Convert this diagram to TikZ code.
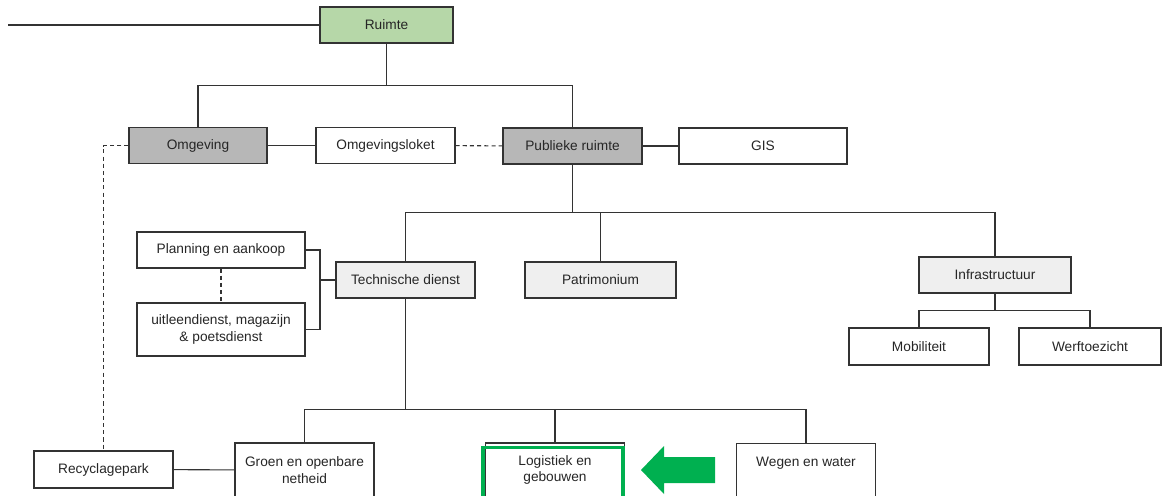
\documentclass[tikz,border=0pt]{standalone}
\usepackage{fontspec}
\setmainfont{Liberation Sans}
\usepackage{tikz}
\usetikzlibrary{positioning,calc}
\definecolor{lijn}{HTML}{333333}
\definecolor{groenvak}{HTML}{B6D7A8}
\definecolor{grijsvak}{HTML}{B7B7B7}
\definecolor{lichtvak}{HTML}{EFEFEF}
\definecolor{accent}{HTML}{00B050}
\tikzstyle{box} = [draw=lijn,line width=0.6pt,rectangle,inner sep=0pt,minimum width=2.78cm,minimum height=0.73cm,align=center,text=black!85,font=\fontsize{7.8}{9.4}\selectfont]
\tikzstyle{wire} = [draw=lijn,line width=0.6pt]
\tikzstyle{dwire} = [wire,dash pattern=on 2.3pt off 1.8pt]
\tikzset{>=latex}

\begin{document}
\begin{tikzpicture}[x=0.02cm,y=-0.02cm]
    \clip (0,0) rectangle (1163,495);
    \fill [white] (0,0) rectangle (1163,495);

    \node [box,fill=groenvak,minimum width=2.66cm,minimum height=0.72cm] (ruimte) at (386.5,25) {Ruimte};
    \node [box,fill=grijsvak,minimum width=2.76cm] (omgeving) at (198,145.5) {Omgeving};
    \node [box] (loket) at (385.5,145.5) {Omgevingsloket};
    \node [box,fill=grijsvak,minimum height=0.72cm] (publiek) at (572.5,146) {Publieke ruimte};
    \node [box,minimum width=3.36cm,minimum height=0.72cm] (gis) at (763,146) {GIS};

    \node [box,minimum width=3.36cm,minimum height=0.72cm] (planning) at (221,250) {Planning en aankoop};
    \node [box,minimum width=3.36cm,minimum height=1.06cm] (uitleen) at (221,329.5) {uitleendienst, magazijn\\\& poetsdienst};
    \node [box,fill=lichtvak,minimum height=0.72cm] (techdienst) at (405.5,280) {Technische dienst};
    \node [box,fill=lichtvak,minimum width=3.02cm,minimum height=0.72cm] (patrimonium) at (600.5,280) {Patrimonium};
    \node [box,fill=lichtvak,minimum width=3.04cm,minimum height=0.72cm] (infra) at (995,275) {Infrastructuur};
    \node [box,minimum width=2.8cm,minimum height=0.74cm] (mobiliteit) at (919,346.5) {Mobiliteit};
    \node [box,minimum width=2.84cm,minimum height=0.74cm] (werf) at (1090,346.5) {Werftoezicht};

    \node [box,minimum height=0.74cm] (recycle) at (103.5,469.5) {Recyclagepark};
    \node [box,minimum height=1.08cm] (groen) at (304.5,470) {Groen en openbare\\netheid};
    \node [box,minimum height=1.08cm] (logistiek) at (555,470) {Logistiek en\\gebouwen};
    \node [box,anchor=north,inner ysep=0.28cm,text depth=0.5cm] (wegen) at (806,443) {Wegen en water};

    \coordinate (links) at (8,25);
    \draw [wire] (links) -- (ruimte);
    \draw [wire] (ruimte.south) -- ++(0,42) coordinate (bus1);
    \draw [wire] (omgeving.north) |- (bus1) -| (publiek.north);
    \draw [wire] (omgeving) -- (loket);
    \draw [dwire] (loket) -- (publiek);
    \draw [wire] (publiek) -- (gis);

    \draw [wire] (publiek.south) -- ++(0,48) coordinate (bus2);
    \draw [wire] (techdienst.north) |- (bus2) -| (infra.north);
    \draw [wire] (patrimonium.north) -- (patrimonium.north |- bus2);
    \draw [wire] (infra.south) -- ++(0,17) coordinate (bus3);
    \draw [wire] (mobiliteit.north) |- (bus3) -| (werf.north);

    \coordinate (haak) at (320,280);
    \draw [wire] (planning.east) -| (haak) |- (uitleen.east);
    \draw [wire] (haak) -- (techdienst.west);
    \draw [dwire] (planning) -- (uitleen);

    \draw [wire] (techdienst.south) -- ++(0,111) coordinate (bus4);
    \draw [wire] (groen.north) |- (bus4) -| (wegen.north);
    \draw [wire] (logistiek.north) -- (logistiek.north |- bus4);
    \draw [wire] (recycle) -- (groen);
    \draw [dwire] (omgeving.west) -| (recycle.north);

    \draw [accent,line width=1.8pt] ($(logistiek.south west)+(-2,0)$) rectangle ($(logistiek.north east)+(-2,5)$);
    \fill [accent] (715,457) -- (664,457) -- (664,446) -- (641,470) -- (664,494) -- (664,483) -- (715,483) -- cycle;
\end{tikzpicture}
\end{document}
